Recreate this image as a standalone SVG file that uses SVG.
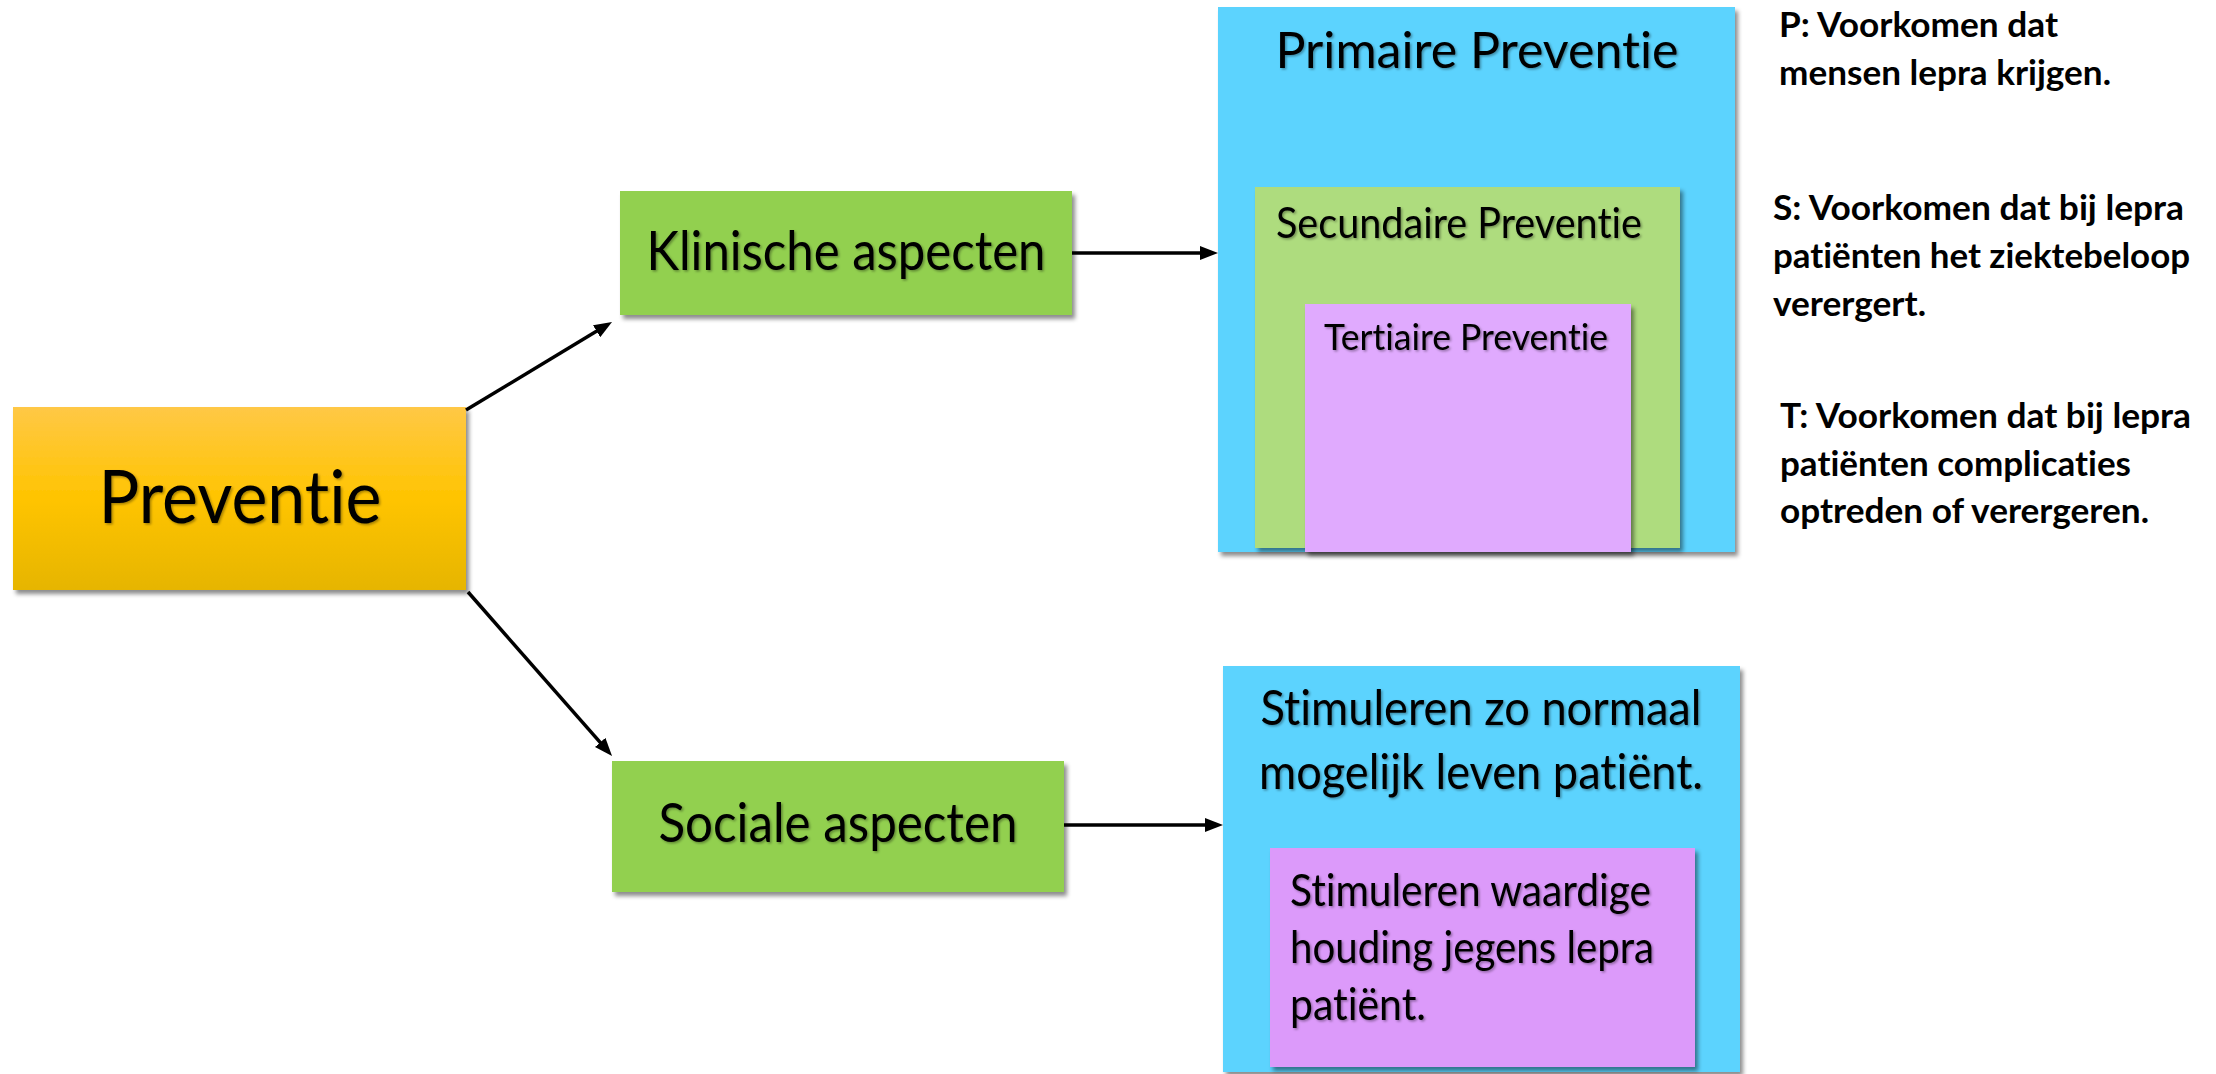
<svg xmlns="http://www.w3.org/2000/svg" width="2216" height="1074" viewBox="0 0 2216 1074">
  <defs>
    <linearGradient id="gradGold" x1="0" y1="0" x2="0" y2="1">
      <stop offset="0" stop-color="#FFC846"/>
      <stop offset="0.5" stop-color="#FFC400"/>
      <stop offset="1" stop-color="#E6B500"/>
    </linearGradient>
    <filter id="boxShadow" x="-10%" y="-10%" width="120%" height="120%">
      <feDropShadow dx="3" dy="4" stdDeviation="2" flood-color="#000" flood-opacity="0.45"/>
    </filter>
    <filter id="textShadow" x="-5%" y="-20%" width="110%" height="140%">
      <feDropShadow dx="1.5" dy="1.5" stdDeviation="1" flood-color="#000" flood-opacity="0.35"/>
    </filter>
    <marker id="arrow" markerUnits="userSpaceOnUse" viewBox="0 0 18 14" markerWidth="18" markerHeight="14" refX="9" refY="7" orient="auto">
      <path d="M0,0 L18,7 L0,14 Z" fill="#000"/>
    </marker>
  </defs>
  <style>
    text { font-variant-ligatures: none; font-feature-settings: "liga" 0, "clig" 0, "dlig" 0; }
    .lbl { font-family: Lato, "Liberation Sans", sans-serif; fill: #000; }
    .mid { text-anchor: middle; }
    .note { font-family: Lato, "Liberation Sans", sans-serif; font-weight: bold; font-size: 35px; fill: #000; }
    .conn { stroke: #000; stroke-width: 3.5; fill: none; marker-end: url(#arrow); }
  </style>

  <g id="node-preventie">
    <rect x="13" y="407" width="453" height="183" fill="url(#gradGold)" filter="url(#boxShadow)"/>
    <text class="lbl mid" x="240" y="523" font-size="74" textLength="283" lengthAdjust="spacingAndGlyphs" filter="url(#textShadow)">Preventie</text>
  </g>

  <g id="node-klinische">
    <rect x="620" y="191" width="452" height="124" fill="#92D050" filter="url(#boxShadow)"/>
    <text class="lbl mid" x="846" y="270" font-size="54" textLength="399" lengthAdjust="spacingAndGlyphs" filter="url(#textShadow)">Klinische aspecten</text>
  </g>

  <g id="node-sociale">
    <rect x="612" y="761" width="452" height="131" fill="#92D050" filter="url(#boxShadow)"/>
    <text class="lbl mid" x="838" y="842" font-size="54" textLength="359" lengthAdjust="spacingAndGlyphs" filter="url(#textShadow)">Sociale aspecten</text>
  </g>

  <g id="node-primaire">
    <rect x="1218" y="7" width="517" height="545" fill="#5BD3FE" filter="url(#boxShadow)"/>
    <text class="lbl mid" x="1477" y="68" font-size="51" textLength="403" lengthAdjust="spacingAndGlyphs" filter="url(#textShadow)">Primaire Preventie</text>
  </g>

  <g id="node-secundaire">
    <rect x="1255" y="187" width="425" height="361" fill="#AEDC7E" filter="url(#boxShadow)"/>
    <text class="lbl" x="1276" y="238" font-size="42" textLength="366" lengthAdjust="spacingAndGlyphs" filter="url(#textShadow)">Secundaire Preventie</text>
  </g>

  <g id="node-tertiaire">
    <rect x="1305" y="304" width="326" height="248" fill="#E0AAFE" filter="url(#boxShadow)"/>
    <text class="lbl mid" x="1466" y="350" font-size="36" textLength="284" lengthAdjust="spacingAndGlyphs" filter="url(#textShadow)">Tertiaire Preventie</text>
  </g>

  <g id="node-stimuleren-leven">
    <rect x="1223" y="666" width="517" height="406" fill="#5BD3FE" filter="url(#boxShadow)"/>
    <text class="lbl mid" x="1481" y="725" font-size="49" textLength="441" lengthAdjust="spacingAndGlyphs" filter="url(#textShadow)">Stimuleren zo normaal</text>
    <text class="lbl mid" x="1481" y="789" font-size="49" textLength="444" lengthAdjust="spacingAndGlyphs" filter="url(#textShadow)">mogelijk leven patiënt.</text>
  </g>

  <g id="node-stimuleren-houding">
    <rect x="1270" y="848" width="425" height="219" fill="#DC9AFA" filter="url(#boxShadow)"/>
    <text class="lbl" x="1290" y="906" font-size="44" textLength="361" lengthAdjust="spacingAndGlyphs" filter="url(#textShadow)">Stimuleren waardige</text>
    <text class="lbl" x="1290" y="963" font-size="44" textLength="364" lengthAdjust="spacingAndGlyphs" filter="url(#textShadow)">houding jegens lepra</text>
    <text class="lbl" x="1290" y="1020" font-size="44" textLength="136" lengthAdjust="spacingAndGlyphs" filter="url(#textShadow)">patiënt.</text>
  </g>

  <g id="notes">
    <text class="note" x="1779" y="37" textLength="279" lengthAdjust="spacingAndGlyphs">P: Voorkomen dat</text>
    <text class="note" x="1779" y="85" textLength="332" lengthAdjust="spacingAndGlyphs">mensen lepra krijgen.</text>
    <text class="note" x="1773" y="220" textLength="411" lengthAdjust="spacingAndGlyphs">S: Voorkomen dat bij lepra</text>
    <text class="note" x="1773" y="268" textLength="417" lengthAdjust="spacingAndGlyphs">patiënten het ziektebeloop</text>
    <text class="note" x="1773" y="316" textLength="153" lengthAdjust="spacingAndGlyphs">verergert.</text>
    <text class="note" x="1780" y="428" textLength="411" lengthAdjust="spacingAndGlyphs">T: Voorkomen dat bij lepra</text>
    <text class="note" x="1780" y="476" textLength="351" lengthAdjust="spacingAndGlyphs">patiënten complicaties</text>
    <text class="note" x="1780" y="523" textLength="369" lengthAdjust="spacingAndGlyphs">optreden of verergeren.</text>
  </g>

  <g id="connectors">
    <path class="conn" d="M466,410 L604.3,326.6"/>
    <path class="conn" d="M468,592 L606.1,749.2"/>
    <path class="conn" d="M1072,253 L1209,253"/>
    <path class="conn" d="M1064,825 L1214,825"/>
  </g>
</svg>
